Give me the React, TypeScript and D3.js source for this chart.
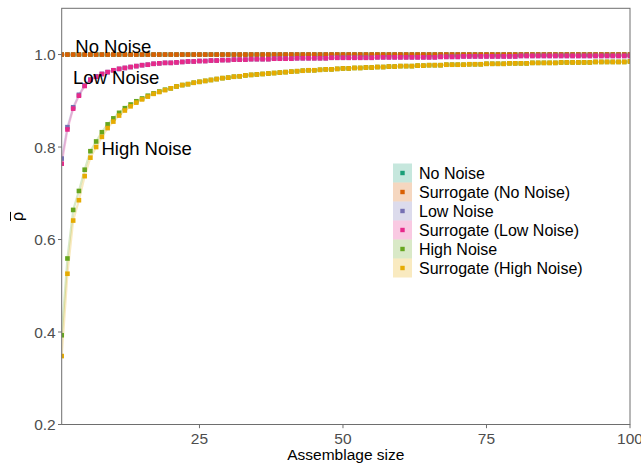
import React, { useEffect, useRef } from 'react';
import * as d3 from 'd3';

// assemblage sizes 1..100
const sizes = d3.range(1, 101);

const noNoise = [
  1, 1, 1, 1, 1, 1, 1, 1, 1, 1, 1, 1, 1, 1, 1, 1, 1, 1, 1, 1,
  1, 1, 1, 1, 1, 1, 1, 1, 1, 1, 1, 1, 1, 1, 1, 1, 1, 1, 1, 1,
  1, 1, 1, 1, 1, 1, 1, 1, 1, 1, 1, 1, 1, 1, 1, 1, 1, 1, 1, 1,
  1, 1, 1, 1, 1, 1, 1, 1, 1, 1, 1, 1, 1, 1, 1, 1, 1, 1, 1, 1,
  1, 1, 1, 1, 1, 1, 1, 1, 1, 1, 1, 1, 1, 1, 1, 1, 1, 1, 1, 1,
];

const surrogateNoNoise = [
  1, 1, 1, 1, 1, 1, 1, 1, 1, 1, 1, 1, 1, 1, 1, 1, 1, 1, 1, 1,
  1, 1, 1, 1, 1, 1, 1, 1, 1, 1, 1, 1, 1, 1, 1, 1, 1, 1, 1, 1,
  1, 1, 1, 1, 1, 1, 1, 1, 1, 1, 1, 1, 1, 1, 1, 1, 1, 1, 1, 1,
  1, 1, 1, 1, 1, 1, 1, 1, 1, 1, 1, 1, 1, 1, 1, 1, 1, 1, 1, 1,
  1, 1, 1, 1, 1, 1, 1, 1, 1, 1, 1, 1, 1, 1, 1, 1, 1, 1, 1, 1,
];

const lowNoise = [
  0.775, 0.843, 0.886, 0.913, 0.933, 0.946, 0.953, 0.958, 0.962, 0.966,
  0.969, 0.971, 0.973, 0.975, 0.977, 0.978, 0.980, 0.981, 0.982, 0.982,
  0.983, 0.984, 0.985, 0.985, 0.986, 0.986, 0.987, 0.987, 0.988, 0.988,
  0.989, 0.989, 0.989, 0.990, 0.990, 0.990, 0.990, 0.991, 0.991, 0.991,
  0.991, 0.992, 0.992, 0.992, 0.992, 0.992, 0.992, 0.993, 0.993, 0.993,
  0.993, 0.993, 0.993, 0.993, 0.993, 0.994, 0.994, 0.994, 0.994, 0.994,
  0.994, 0.994, 0.994, 0.994, 0.994, 0.994, 0.995, 0.995, 0.995, 0.995,
  0.996, 0.996, 0.996, 0.996, 0.996, 0.996, 0.996, 0.996, 0.996, 0.996,
  0.997, 0.997, 0.997, 0.997, 0.997, 0.997, 0.997, 0.997, 0.997, 0.997,
  0.997, 0.997, 0.997, 0.997, 0.997, 0.997, 0.997, 0.997, 0.997, 0.997,
];

const surrogateLowNoise = [
  0.764, 0.838, 0.883, 0.911, 0.932, 0.945, 0.952, 0.958, 0.962, 0.966,
  0.969, 0.971, 0.973, 0.975, 0.977, 0.978, 0.980, 0.981, 0.982, 0.982,
  0.983, 0.984, 0.985, 0.985, 0.986, 0.986, 0.987, 0.987, 0.988, 0.988,
  0.989, 0.989, 0.989, 0.990, 0.990, 0.990, 0.990, 0.991, 0.991, 0.991,
  0.991, 0.992, 0.992, 0.992, 0.992, 0.992, 0.992, 0.993, 0.993, 0.993,
  0.993, 0.993, 0.993, 0.993, 0.993, 0.994, 0.994, 0.994, 0.994, 0.994,
  0.994, 0.994, 0.994, 0.994, 0.994, 0.994, 0.995, 0.995, 0.995, 0.995,
  0.996, 0.996, 0.996, 0.996, 0.996, 0.996, 0.996, 0.996, 0.996, 0.996,
  0.997, 0.997, 0.997, 0.997, 0.997, 0.997, 0.997, 0.997, 0.997, 0.997,
  0.997, 0.997, 0.997, 0.997, 0.997, 0.997, 0.997, 0.997, 0.997, 0.997,
];

const highNoise = [
  0.393, 0.559, 0.664, 0.705, 0.751, 0.791, 0.812, 0.832, 0.849, 0.862,
  0.874, 0.884, 0.892, 0.899, 0.905, 0.911, 0.916, 0.920, 0.924, 0.927,
  0.931, 0.934, 0.936, 0.939, 0.941, 0.943, 0.945, 0.947, 0.949, 0.950,
  0.952, 0.953, 0.955, 0.956, 0.957, 0.958, 0.959, 0.960, 0.961, 0.962,
  0.963, 0.964, 0.965, 0.966, 0.966, 0.967, 0.968, 0.968, 0.969, 0.970,
  0.970, 0.971, 0.971, 0.972, 0.972, 0.973, 0.973, 0.974, 0.974, 0.975,
  0.975, 0.975, 0.976, 0.976, 0.977, 0.977, 0.977, 0.978, 0.978, 0.978,
  0.978, 0.979, 0.979, 0.979, 0.980, 0.980, 0.980, 0.980, 0.981, 0.981,
  0.981, 0.981, 0.982, 0.982, 0.982, 0.982, 0.982, 0.983, 0.983, 0.983,
  0.983, 0.983, 0.983, 0.984, 0.984, 0.984, 0.984, 0.984, 0.984, 0.985,
];

const surrogateHighNoise = [
  0.348, 0.526, 0.641, 0.685, 0.737, 0.777, 0.800, 0.822, 0.841, 0.855,
  0.868, 0.879, 0.888, 0.896, 0.903, 0.909, 0.915, 0.919, 0.923, 0.927,
  0.931, 0.934, 0.936, 0.939, 0.941, 0.943, 0.945, 0.947, 0.949, 0.950,
  0.952, 0.953, 0.955, 0.956, 0.957, 0.958, 0.959, 0.960, 0.961, 0.962,
  0.963, 0.964, 0.965, 0.966, 0.966, 0.967, 0.968, 0.968, 0.969, 0.970,
  0.970, 0.971, 0.971, 0.972, 0.972, 0.973, 0.973, 0.974, 0.974, 0.975,
  0.975, 0.975, 0.976, 0.976, 0.977, 0.977, 0.977, 0.978, 0.978, 0.978,
  0.978, 0.979, 0.979, 0.979, 0.980, 0.980, 0.980, 0.980, 0.981, 0.981,
  0.981, 0.981, 0.982, 0.982, 0.982, 0.982, 0.982, 0.983, 0.983, 0.983,
  0.983, 0.983, 0.983, 0.984, 0.984, 0.984, 0.984, 0.984, 0.984, 0.985,
];

const seriesNames = [
  'No Noise',
  'Surrogate (No Noise)',
  'Low Noise',
  'Surrogate (Low Noise)',
  'High Noise',
  'Surrogate (High Noise)',
];
const seriesValues = [noNoise, surrogateNoNoise, lowNoise, surrogateLowNoise, highNoise, surrogateHighNoise];
const colors = ['#1B9E77', '#D95F02', '#7570B3', '#E7298A', '#66A61E', '#E6AB02'];

const xTicks = [25, 50, 75, 100];
const yTicks = [0.2, 0.4, 0.6, 0.8, 1.0];

// text labels placed in data coordinates
const labelText = ['No Noise', 'Low Noise', 'High Noise'];
const labelX = [10, 10.5, 15.8];
const labelY = [1.017, 0.951, 0.798];

const FONT = 'Liberation Sans, Arial, Helvetica, sans-serif';

const App = () => {
  const ref = useRef<SVGSVGElement>(null);

  useEffect(() => {
    const width = 641;
    const height = 464;
    const left = 61.7, right = 630, top = 8.3, bottom = 424.5;

    const x = d3.scaleLinear().domain([1, 100]).range([left, right]);
    const y = d3.scaleLinear().domain([0.2, 1.1]).range([bottom, top]);

    const svg = d3.select(ref.current)
      .attr('width', width)
      .attr('height', height)
      .attr('viewBox', `0 0 ${width} ${height}`)
      .style('font-family', FONT);

    svg.selectAll('*').remove();

    svg.append('rect').attr('width', width).attr('height', height).attr('fill', 'white');

    const series = seriesNames.map((name, i) => ({
      name,
      color: colors[i],
      points: sizes.map((s, j) => ({ s, v: seriesValues[i][j] })),
    }));

    const clip = svg.append('defs').append('clipPath').attr('id', 'panel');
    clip.append('rect').attr('x', left).attr('y', top).attr('width', right - left).attr('height', bottom - top);

    const plot = svg.append('g').attr('clip-path', 'url(#panel)');

    const line = d3.line<{ s: number; v: number }>().x(d => x(d.s)).y(d => y(d.v));

    plot.selectAll('path.series')
      .data(series)
      .join('path')
      .attr('class', 'series')
      .attr('d', d => line(d.points))
      .attr('fill', 'none')
      .attr('stroke', d => d.color)
      .attr('stroke-opacity', 0.25)
      .attr('stroke-width', 2.2);

    const sq = 4.6;
    series.forEach(sr => {
      plot.append('g')
        .selectAll('rect')
        .data(sr.points)
        .join('rect')
        .attr('x', d => x(d.s) - sq / 2)
        .attr('y', d => y(d.v) - sq / 2)
        .attr('width', sq)
        .attr('height', sq)
        .attr('fill', sr.color);
    });

    // annotations
    svg.append('g')
      .selectAll('text')
      .data(labelText)
      .join('text')
      .attr('x', (_, i) => x(labelX[i]))
      .attr('y', (_, i) => y(labelY[i]))
      .attr('dy', '0.36em')
      .attr('text-anchor', 'middle')
      .attr('font-size', 18.5)
      .attr('fill', 'black')
      .text(d => d);

    // panel border
    svg.append('rect')
      .attr('x', left).attr('y', top)
      .attr('width', right - left).attr('height', bottom - top)
      .attr('fill', 'none')
      .attr('stroke', '#6e6e6e')
      .attr('stroke-width', 1);

    // y axis
    const yAxis = svg.append('g');
    yAxis.selectAll('line')
      .data(yTicks)
      .join('line')
      .attr('x1', left - 3.7).attr('x2', left)
      .attr('y1', d => y(d)).attr('y2', d => y(d))
      .attr('stroke', '#6e6e6e');
    yAxis.selectAll('text')
      .data(yTicks)
      .join('text')
      .attr('x', left - 6)
      .attr('y', d => y(d))
      .attr('dy', '0.36em')
      .attr('text-anchor', 'end')
      .attr('font-size', 15.5)
      .attr('fill', '#4D4D4D')
      .text(d => d3.format('.1f')(d));

    // x axis
    const xAxis = svg.append('g');
    xAxis.selectAll('line')
      .data(xTicks)
      .join('line')
      .attr('x1', d => x(d)).attr('x2', d => x(d))
      .attr('y1', bottom).attr('y2', bottom + 3.7)
      .attr('stroke', '#6e6e6e');
    xAxis.selectAll('text')
      .data(xTicks)
      .join('text')
      .attr('x', d => x(d))
      .attr('y', bottom + 19.5)
      .attr('text-anchor', 'middle')
      .attr('font-size', 15.5)
      .attr('fill', '#4D4D4D')
      .text(d => d);

    svg.append('text')
      .attr('x', (left + right) / 2)
      .attr('y', 460)
      .attr('text-anchor', 'middle')
      .attr('font-size', 15.5)
      .attr('fill', 'black')
      .text('Assemblage size');

    // y title: rho with a bar
    const yt = svg.append('g').attr('transform', `translate(23, ${(top + bottom) / 2}) rotate(-90)`);
    yt.append('text')
      .attr('x', 0).attr('y', 0)
      .attr('text-anchor', 'middle')
      .attr('font-size', 16)
      .attr('fill', 'black')
      .text('ρ');
    yt.append('line')
      .attr('x1', -4.5).attr('x2', 4.5)
      .attr('y1', -12.5).attr('y2', -12.5)
      .attr('stroke', 'black')
      .attr('stroke-width', 1);

    // legend
    const keyX = 393, keyY = 163.5, keyS = 19, rowH = 19;
    const legend = svg.append('g');
    const rows = legend.selectAll('g')
      .data(series)
      .join('g')
      .attr('transform', (_, i) => `translate(${keyX}, ${keyY + i * rowH})`);
    rows.append('rect')
      .attr('width', keyS).attr('height', keyS)
      .attr('fill', d => d.color)
      .attr('fill-opacity', 0.25);
    rows.append('rect')
      .attr('x', keyS / 2 - 2.2).attr('y', keyS / 2 - 2.2)
      .attr('width', 4.4).attr('height', 4.4)
      .attr('fill', d => d.color);
    rows.append('text')
      .attr('x', keyS + 7)
      .attr('y', keyS / 2)
      .attr('dy', '0.36em')
      .attr('font-size', 16)
      .attr('fill', 'black')
      .text(d => d.name);
  }, []);

  return (
    <svg ref={ref} style={{ position: 'absolute', left: 0, top: 0 }}></svg>
  );
};

export default App;
